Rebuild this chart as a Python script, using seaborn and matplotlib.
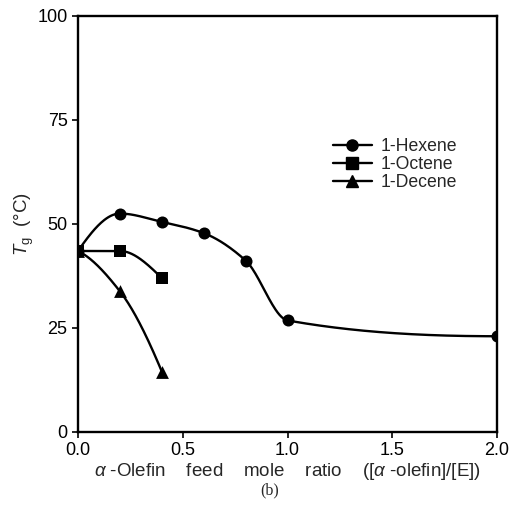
import numpy as np
import pandas as pd
import matplotlib
matplotlib.use("Agg")
import matplotlib.pyplot as plt
import seaborn as sns
from matplotlib.lines import Line2D

# ---- data ----
series_names = ["1-Hexene", "1-Octene", "1-Decene"]
hexene_x = [0.0, 0.2, 0.4, 0.6, 0.8, 1.0, 2.0]
hexene_y = [43.5, 52.5, 50.5, 47.8, 41.2, 26.8, 23.0]
octene_x = [0.0, 0.2, 0.4]
octene_y = [43.5, 43.5, 37.0]
decene_x = [0.0, 0.2, 0.4]
decene_y = [43.5, 33.8, 14.5]
markers = ["o", "s", "^"]
x_ticks = [0.0, 0.5, 1.0, 1.5, 2.0]
x_tick_labels = ["0.0", "0.5", "1.0", "1.5", "2.0"]
y_ticks = [0, 25, 50, 75, 100]


def pchip(x, y, xs):
    x = np.asarray(x, float); y = np.asarray(y, float)
    h = np.diff(x); d = np.diff(y) / h
    n = len(x)
    m = np.zeros(n)
    for k in range(1, n - 1):
        if d[k - 1] * d[k] <= 0:
            m[k] = 0
        else:
            w1 = 2 * h[k] + h[k - 1]; w2 = h[k] + 2 * h[k - 1]
            m[k] = (w1 + w2) / (w1 / d[k - 1] + w2 / d[k])
    def end(h0, h1, d0, d1):
        v = ((2 * h0 + h1) * d0 - h0 * d1) / (h0 + h1)
        if np.sign(v) != np.sign(d0):
            v = 0
        elif np.sign(d0) != np.sign(d1) and abs(v) > abs(3 * d0):
            v = 3 * d0
        return v
    if n > 2:
        m[0] = end(h[0], h[1], d[0], d[1])
        m[-1] = end(h[-1], h[-2], d[-1], d[-2])
    else:
        m[:] = d[0]
    ys = np.empty_like(xs)
    for i, xv in enumerate(xs):
        k = min(np.searchsorted(x, xv, side="right") - 1, n - 2)
        k = max(k, 0)
        t = (xv - x[k]) / h[k]
        h00 = 2 * t**3 - 3 * t**2 + 1; h10 = t**3 - 2 * t**2 + t
        h01 = -2 * t**3 + 3 * t**2; h11 = t**3 - t**2
        ys[i] = h00 * y[k] + h10 * h[k] * m[k] + h01 * y[k + 1] + h11 * h[k] * m[k + 1]
    return ys


sns.set_theme(style="ticks")
plt.rcParams["font.family"] = ["Liberation Sans", "DejaVu Sans"]
plt.rcParams["mathtext.fontset"] = "custom"
plt.rcParams["mathtext.it"] = "Liberation Sans:italic"
plt.rcParams["mathtext.rm"] = "Liberation Sans"

fig = plt.figure(figsize=(5.2, 5.16), dpi=100)
ax = fig.add_axes([0.15, 0.163, 0.806, 0.806])

all_x = [hexene_x, octene_x, decene_x]
all_y = [hexene_y, octene_y, decene_y]
handles = []
for name, xs, ys, mk in zip(series_names, all_x, all_y, markers):
    xx = np.linspace(min(xs), max(xs), 400)
    yy = pchip(xs, ys, xx)
    sns.lineplot(x=xx, y=yy, ax=ax, color="black", lw=1.7, estimator=None, sort=False)
    df = pd.DataFrame({"x": xs, "y": ys})
    sns.scatterplot(data=df, x="x", y="y", ax=ax, marker=mk, color="black",
                    s=75 if mk != "^" else 85, edgecolor="black", linewidth=0, zorder=5)
    handles.append(Line2D([], [], color="black", lw=1.7, marker=mk, markersize=8, label=name))

ax.set_xlim(0, 2.0)
ax.set_ylim(0, 100)
ax.set_xticks(x_ticks)
ax.set_xticklabels(x_tick_labels)
ax.set_yticks(y_ticks)
ax.tick_params(axis="both", direction="out", length=4, width=1.2, labelsize=13, colors="black")
for sp in ax.spines.values():
    sp.set_visible(True)
    sp.set_linewidth(1.7)
    sp.set_color("black")

ax.set_xlabel(r"$\alpha$ -Olefin    feed    mole    ratio    ([$\alpha$ -olefin]/[E])",
              fontsize=13.5, labelpad=1)
ax.set_ylabel(r"$T_{\mathrm{g}}$  (°C)", fontsize=13.5, labelpad=1)

leg = ax.legend(handles=handles, loc="upper left", bbox_to_anchor=(0.57, 0.745),
                frameon=False, fontsize=12.7, handlelength=2.2, handletextpad=0.5,
                labelspacing=0.06)

fig.text(0.518, 0.05, "(b)", ha="center", va="center", fontsize=11.5,
         family=["Liberation Serif", "DejaVu Serif"])

fig.savefig("out.png", dpi=100)
